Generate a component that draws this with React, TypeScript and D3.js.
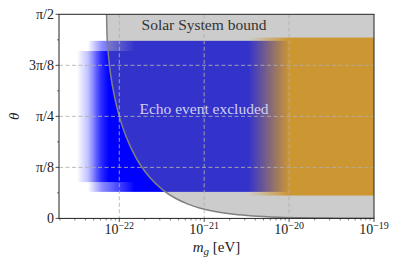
import React from "react";
import * as d3 from "d3";

// x axis: decades of m_g [eV]
const xTickExps = [-22, -21, -20, -19];
const xDomainExp = [-22.71, -19];
// y axis: theta in units of pi
const yTickValues = [0, 1 / 8, 1 / 4, 3 / 8, 1 / 2];
const yTickLabels = ["0", "π/8", "π/4", "3π/8", "π/2"];
const yMinorValues = [1 / 16, 3 / 16, 5 / 16, 7 / 16];

// Solar System bound curve (log10 m_g, theta/pi)
const boundLogM = [-22.15, -22.145, -22.128, -22.1, -22.058, -22.0, -21.919, -21.807, -21.64, -21.489, -21.344, -21.19, -21.045, -20.823, -20.647, -20.425, -20.124, -19.823, -19.55, -19.35, -19.0];
const boundTheta = [0.5, 0.45, 0.4, 0.35, 0.3, 0.25, 0.2, 0.15, 0.1, 0.07, 0.05, 0.035, 0.025, 0.015, 0.01, 0.006, 0.003, 0.0015, 0.0008, 0.0005, 0.00023];

// Echo event excluded (blue) regions: theta range (×π) and fade-in range (log10 m)
const blueCoreTheta = [0.089, 0.41];
const blueCoreFade = [-22.5, -22.12];
const blueWideTheta = [0.065, 0.435];
const blueWideFade = [-22.37, -21.82];
// orange region
const orangeTheta = [0.056, 0.443];
const orangeFade = [-20.48, -20.0];

const W = 399, H = 266;
const L = 59, R = 374, T = 14.3, B = 218.4;

export default function App() {
  const x = d3.scaleLog().domain(xDomainExp.map((e) => Math.pow(10, e))).range([L, R]);
  const y = d3.scaleLinear().domain([0, Math.PI / 2]).range([B, T]);
  const X = (e: number) => x(Math.pow(10, e));
  const Y = (t: number) => y(t * Math.PI);

  const pts: [number, number][] = boundLogM.map((m, i) => [X(m), Y(boundTheta[i])]);
  const line = d3.line().curve(d3.curveMonotoneX);
  const curvePath = line(pts) || "";
  const grayPath = curvePath + `L${R},${T}L${pts[0][0]},${T}Z`;

  const minorX: number[] = [];
  for (let e = -23; e < -19; e++) {
    for (let k = 2; k <= 9; k++) {
      const v = k * Math.pow(10, e);
      const lv = Math.log10(v);
      if (lv > xDomainExp[0] && lv < xDomainExp[1]) minorX.push(x(v));
    }
  }

  const font = "'Liberation Serif', 'DejaVu Serif', serif";
  const rectFor = (th: number[]) => ({ y: Y(th[1]), h: Y(th[0]) - Y(th[1]) });
  const core = rectFor(blueCoreTheta);
  const wide = rectFor(blueWideTheta);
  const orng = rectFor(orangeTheta);

  return (
    <svg width={W} height={H} style={{ position: "absolute", left: 0, top: 0 }}>
      <defs>
        <clipPath id="ax">
          <rect x={L} y={T} width={R - L} height={B - T} />
        </clipPath>
        <linearGradient id="gCore" gradientUnits="userSpaceOnUse" x1={X(blueCoreFade[0])} x2={X(blueCoreFade[1])} y1={0} y2={0}>
          <stop offset="0" stopColor="#0000ff" stopOpacity={0} />
          <stop offset="0.5" stopColor="#0000ff" stopOpacity={0.35} />
          <stop offset="1" stopColor="#0000ff" stopOpacity={1} />
        </linearGradient>
        <linearGradient id="gWide" gradientUnits="userSpaceOnUse" x1={X(blueWideFade[0])} x2={X(blueWideFade[1])} y1={0} y2={0}>
          <stop offset="0" stopColor="#0000ff" stopOpacity={0} />
          <stop offset="0.3" stopColor="#0000ff" stopOpacity={0.45} />
          <stop offset="1" stopColor="#0000ff" stopOpacity={1} />
        </linearGradient>
        <linearGradient id="gOr" gradientUnits="userSpaceOnUse" x1={X(orangeFade[0])} x2={X(orangeFade[1])} y1={0} y2={0}>
          <stop offset="0" stopColor="#ffa500" stopOpacity={0} />
          <stop offset="1" stopColor="#ffa500" stopOpacity={1} />
        </linearGradient>
      </defs>
      <rect x={0} y={0} width={W} height={H} fill="#fff" />
      <g clipPath="url(#ax)">
        <rect x={X(blueCoreFade[0])} y={core.y} width={R - X(blueCoreFade[0])} height={core.h} fill="url(#gCore)" />
        <rect x={X(blueWideFade[0])} y={wide.y} width={R - X(blueWideFade[0])} height={wide.h} fill="url(#gWide)" />
        <rect x={X(orangeFade[0])} y={orng.y} width={R - X(orangeFade[0])} height={orng.h} fill="url(#gOr)" />
        <path d={grayPath} fill="#808080" fillOpacity={0.4} />
        <path d={curvePath} fill="none" stroke="#808080" strokeWidth={1.5} />
        {xTickExps.filter((e) => e > xDomainExp[0] && e < xDomainExp[1]).map((e) => (
          <line key={"gx" + e} x1={X(e)} x2={X(e)} y1={T} y2={B} stroke="#b0b0b0" strokeWidth={1} strokeDasharray="4,2.5" strokeOpacity={0.85} />
        ))}
        {yTickValues.slice(1, -1).map((v) => (
          <line key={"gy" + v} x1={L} x2={R} y1={Y(v)} y2={Y(v)} stroke="#b0b0b0" strokeWidth={1} strokeDasharray="4,2.5" strokeOpacity={0.85} />
        ))}
      </g>
      <text x={204} y={30} textAnchor="middle" fontFamily={font} fontSize={15.5} fill="#333">Solar System bound</text>
      <text x={204} y={113.5} textAnchor="middle" fontFamily={font} fontSize={15.5} fill="#d0d0f0">Echo event excluded</text>
      <rect x={L} y={T} width={R - L} height={B - T} fill="none" stroke="#222" strokeWidth={1} />
      {yTickValues.map((v, i) => (
        <g key={"yt" + i}>
          <line x1={L - 3.5} x2={L} y1={Y(v)} y2={Y(v)} stroke="#222" strokeWidth={0.8} />
          <text x={L - 5} y={Y(v)} dy="0.33em" textAnchor="end" fontFamily={font} fontSize={14} fill="#222">{yTickLabels[i]}</text>
        </g>
      ))}
      {yMinorValues.map((v, i) => (
        <line key={"ym" + i} x1={L - 2} x2={L} y1={Y(v)} y2={Y(v)} stroke="#222" strokeWidth={0.6} />
      ))}
      {xTickExps.map((e) => (
        <g key={"xt" + e}>
          <line x1={X(e)} x2={X(e)} y1={B} y2={B + 3.5} stroke="#222" strokeWidth={0.8} />
          <text x={X(e)} y={234} textAnchor="middle" fontFamily={font} fontSize={14} fill="#222">
            10<tspan dy={-5.5} fontSize={10}>{"−" + Math.abs(e)}</tspan>
          </text>
        </g>
      ))}
      {minorX.map((px, i) => (
        <line key={"xm" + i} x1={px} x2={px} y1={B} y2={B + 2} stroke="#222" strokeWidth={0.6} />
      ))}
      <text x={(L + R) / 2} y={251.5} textAnchor="middle" fontFamily={font} fontSize={15} fill="#222">
        <tspan fontStyle="italic">m</tspan>
        <tspan fontStyle="italic" fontSize={11} dy={3}>g</tspan>
        <tspan dy={-3}> [eV]</tspan>
      </text>
      <text transform={`translate(19,${(T + B) / 2}) rotate(-90)`} textAnchor="middle" fontFamily={font} fontStyle="italic" fontSize={15} fill="#222">θ</text>
    </svg>
  );
}
